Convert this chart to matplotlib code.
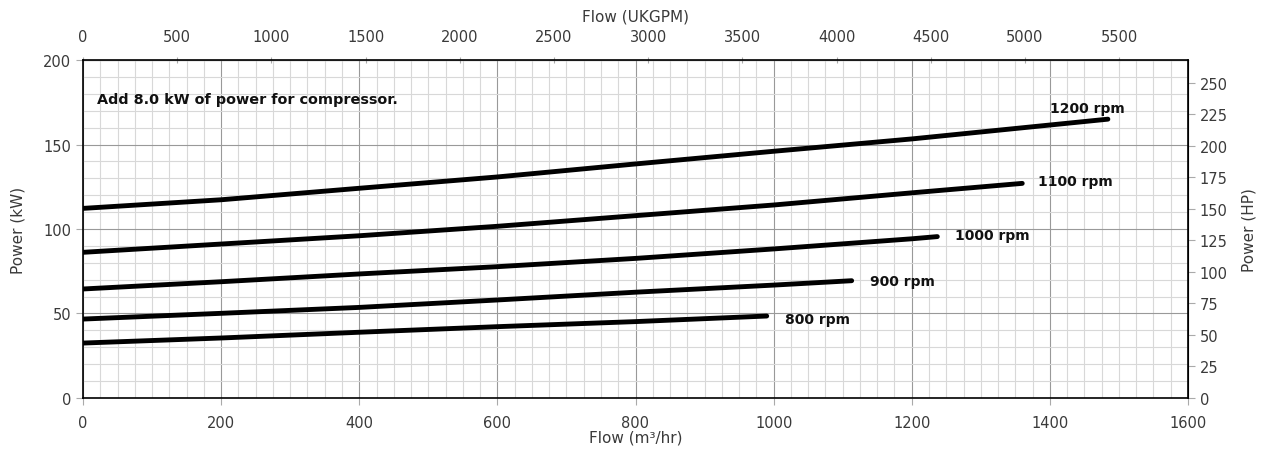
import matplotlib.pyplot as plt
from matplotlib.ticker import MultipleLocator

flow_1200 = [0, 200, 400, 600, 800, 1000, 1200, 1484]
power_1200 = [112.2, 117.3, 124.1, 130.8, 138.5, 146.0, 153.3, 165.0]
flow_1100 = [0, 200, 400, 600, 800, 1000, 1200, 1360]
power_1100 = [86.2, 91.1, 96.0, 101.6, 107.9, 114.2, 121.4, 127.0]
flow_1000 = [0, 200, 400, 600, 800, 1000, 1200, 1237]
power_1000 = [64.5, 68.8, 73.4, 77.7, 82.6, 88.2, 94.2, 95.5]
flow_900 = [0, 200, 400, 600, 800, 1000, 1113]
power_900 = [46.7, 50.1, 53.6, 58.0, 62.6, 66.8, 69.4]
flow_800 = [0, 200, 400, 600, 800, 990]
power_800 = [32.5, 35.5, 38.9, 42.2, 45.2, 48.5]

curves = [
    ("1200 rpm", flow_1200, power_1200),
    ("1100 rpm", flow_1100, power_1100),
    ("1000 rpm", flow_1000, power_1000),
    ("900 rpm", flow_900, power_900),
    ("800 rpm", flow_800, power_800),
]
# label offsets in points (dx, dy) from the end of each curve
label_offsets = {
    "1200 rpm": (-42, 8),
    "1100 rpm": (11, 2),
    "1000 rpm": (13, 1),
    "900 rpm": (13, 0),
    "800 rpm": (13, -2),
}

note = "Add 8.0 kW of power for compressor."
ukgpm_per_m3h = 3.6662
hp_per_kw = 1.341

plt.rcParams['font.family'] = ['DejaVu Sans']
tick_color = '#3a3a3a'

fig = plt.figure(figsize=(12.71, 4.52), dpi=100)
ax = fig.add_axes([0.0653, 0.1173, 0.8694, 0.7477])

for name, q, p in curves:
    ax.plot(q, p, color='black', lw=3.5, solid_capstyle='round', zorder=3)
    dx, dy = label_offsets[name]
    ax.annotate(name, (q[-1], p[-1]), xytext=(dx, dy), textcoords='offset points',
                fontsize=10, fontweight='bold', va='center', ha='left', color='#111111')

ax.text(20, 177, note, fontsize=10.4, fontweight='bold', va='center', ha='left', color='#111111')

ax.set_xlim(0, 1600)
ax.set_ylim(0, 200)
ax.xaxis.set_major_locator(MultipleLocator(200))
ax.xaxis.set_minor_locator(MultipleLocator(25))
ax.yaxis.set_major_locator(MultipleLocator(50))
ax.yaxis.set_minor_locator(MultipleLocator(10))
ax.grid(which='major', color='#999999', lw=0.8)
ax.grid(which='minor', color='#d8d8d8', lw=0.8)
ax.set_axisbelow(True)
for s in ax.spines.values():
    s.set_color('black')
    s.set_linewidth(1.2)
ax.tick_params(which='major', length=5, color='#aaaaaa', labelcolor=tick_color, labelsize=10.5)
ax.tick_params(axis='x', which='major', pad=7)
ax.tick_params(which='minor', length=0)
ax.set_xlabel("Flow (m³/hr)", fontsize=11, color=tick_color, labelpad=0)
ax.set_ylabel("Power (kW)", fontsize=11, color=tick_color, labelpad=13)

top = ax.secondary_xaxis('top', functions=(lambda x: x * ukgpm_per_m3h,
                                            lambda x: x / ukgpm_per_m3h))
top.set_xticks(range(0, 5501, 500))
top.tick_params(length=5, color='#aaaaaa', labelcolor=tick_color, labelsize=10.5,
                direction='inout', pad=9)
top.set_xlabel("Flow (UKGPM)", fontsize=11, color=tick_color, labelpad=6)

right = ax.secondary_yaxis('right', functions=(lambda y: y * hp_per_kw,
                                               lambda y: y / hp_per_kw))
right.set_yticks(range(0, 251, 25))
right.tick_params(length=5, color='#aaaaaa', labelcolor=tick_color, labelsize=10.5)
right.set_ylabel("Power (HP)", fontsize=11, color=tick_color, labelpad=10)

fig.savefig('out.png', dpi=100)
